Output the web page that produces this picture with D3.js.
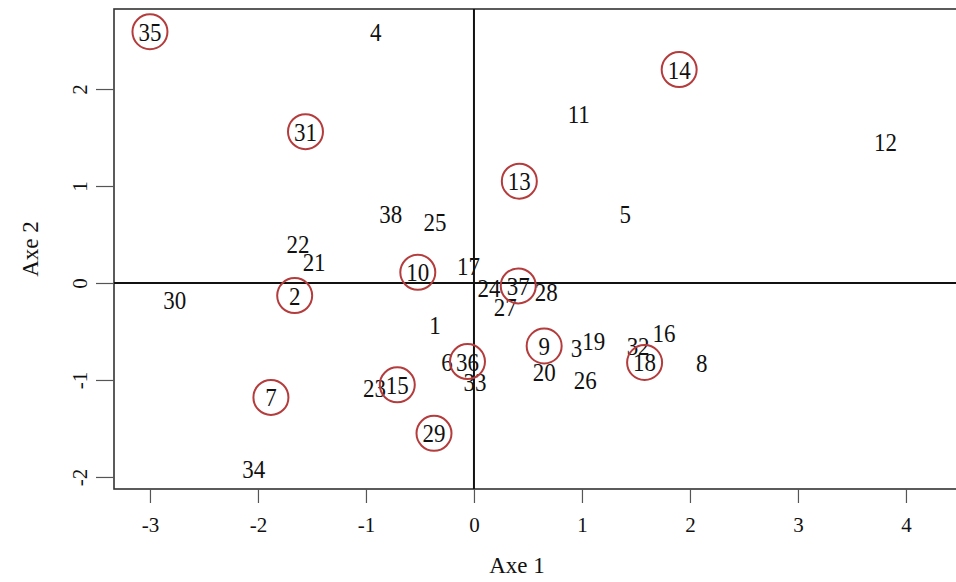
<!DOCTYPE html>
<html>
<head>
<meta charset="utf-8">
<script src="https://cdn.jsdelivr.net/npm/d3@7"></script>
<style>
  body { margin: 0; background: #fff; }
  text { font-family: "Liberation Serif", "DejaVu Serif", serif; fill: #111; }
</style>
</head>
<body>
<svg width="956" height="582"></svg>
<script>
// individuals on the first factorial plane
const labels = [35, 4, 14, 31, 11, 12, 13, 5, 38, 25, 22, 21, 10, 17, 24, 37, 28, 27, 30, 2,
  1, 9, 3, 19, 16, 32, 18, 8, 6, 36, 33, 20, 26, 23, 15, 7, 29, 34];
const axe1 = [-3.00, -0.91, 1.90, -1.56, 0.97, 3.81, 0.42, 1.40, -0.77, -0.36, -1.63, -1.48, -0.52, -0.05, 0.14, 0.41, 0.67, 0.29, -2.77, -1.66,
  -0.36, 0.65, 0.95, 1.11, 1.76, 1.52, 1.58, 2.11, -0.25, -0.06, 0.01, 0.65, 1.03, -0.92, -0.71, -1.88, -0.37, -2.04];
const axe2 = [2.59, 2.59, 2.20, 1.56, 1.74, 1.45, 1.05, 0.71, 0.71, 0.63, 0.40, 0.22, 0.11, 0.17, -0.05, -0.03, -0.09, -0.25, -0.18, -0.13,
  -0.43, -0.65, -0.67, -0.60, -0.52, -0.65, -0.82, -0.83, -0.81, -0.81, -1.02, -0.92, -1.00, -1.08, -1.05, -1.18, -1.55, -1.92];
const circled = [35, 14, 31, 13, 10, 37, 2, 9, 18, 36, 15, 7, 29];
const xTicks = [-3, -2, -1, 0, 1, 2, 3, 4];
const yTicks = [-2, -1, 0, 1, 2];

const data = labels.map((d, i) => ({ label: d, x: axe1[i], y: axe2[i], ring: circled.includes(d) }));

const svg = d3.select("svg"),
  box = { left: 114, right: 960, top: 9, bottom: 489 };

const x = d3.scaleLinear().domain([-3.333, 4.5]).range([box.left, box.left + (4.5 + 3.333) * 108]);
const y = d3.scaleLinear().domain([-2.124, 2.825]).range([box.bottom, box.top]);

// frame
svg.append("rect")
  .attr("x", box.left)
  .attr("y", box.top)
  .attr("width", box.right - box.left)
  .attr("height", box.bottom - box.top)
  .attr("fill", "none")
  .attr("stroke", "#333")
  .attr("stroke-width", 1.6);

// axes (plain hyphen for negatives, like R)
const fmt = d => String(d);
const xAxis = svg.append("g")
  .attr("transform", `translate(0,${box.bottom})`)
  .call(d3.axisBottom(x).tickValues(xTicks).tickSize(14).tickPadding(10).tickFormat(fmt));
const yAxis = svg.append("g")
  .attr("transform", `translate(${box.left},0)`)
  .call(d3.axisLeft(y).tickValues(yTicks).tickSize(18).tickPadding(8).tickFormat(fmt));

[xAxis, yAxis].forEach(a => {
  a.select(".domain").remove();
  a.selectAll(".tick line").attr("stroke", "#555").attr("stroke-width", 1.2);
  a.selectAll(".tick text")
    .style("font-family", "Liberation Serif, serif")
    .style("font-size", "21px")
    .attr("fill", "#111");
});
xAxis.selectAll(".tick text").attr("dy", "0.9em");
yAxis.selectAll(".tick text")
  .attr("text-anchor", "middle")
  .attr("dy", null)
  .attr("x", null)
  .attr("transform", "translate(-34,0) rotate(-90)")
  .attr("dominant-baseline", "central");

// origin lines
svg.append("line")
  .attr("x1", box.left).attr("x2", box.right)
  .attr("y1", y(0)).attr("y2", y(0))
  .attr("stroke", "#111").attr("stroke-width", 2);
svg.append("line")
  .attr("x1", x(0)).attr("x2", x(0))
  .attr("y1", box.top).attr("y2", box.bottom)
  .attr("stroke", "#111").attr("stroke-width", 2);

// axis titles
svg.append("text")
  .attr("x", 517)
  .attr("y", 573)
  .attr("text-anchor", "middle")
  .style("font-size", "23px")
  .text("Axe 1");
svg.append("text")
  .attr("transform", `translate(38,${(box.top + box.bottom) / 2}) rotate(-90)`)
  .attr("text-anchor", "middle")
  .style("font-size", "23px")
  .text("Axe 2");

// labels (slightly tall glyphs, as in the original export)
svg.selectAll(".lab")
  .data(data)
  .enter()
  .append("text")
  .attr("class", "lab")
  .attr("transform", d => `translate(${x(d.x)},${y(d.y)}) scale(1,1.12)`)
  .attr("text-anchor", "middle")
  .attr("dominant-baseline", "central")
  .style("font-size", "23px")
  .text(d => d.label);

// highlighted individuals
svg.selectAll(".ring")
  .data(data.filter(d => d.ring))
  .enter()
  .append("circle")
  .attr("class", "ring")
  .attr("cx", d => x(d.x))
  .attr("cy", d => y(d.y))
  .attr("r", 17.5)
  .attr("fill", "none")
  .attr("stroke", "#b43c3c")
  .attr("stroke-width", 2);
</script>
</body>
</html>
